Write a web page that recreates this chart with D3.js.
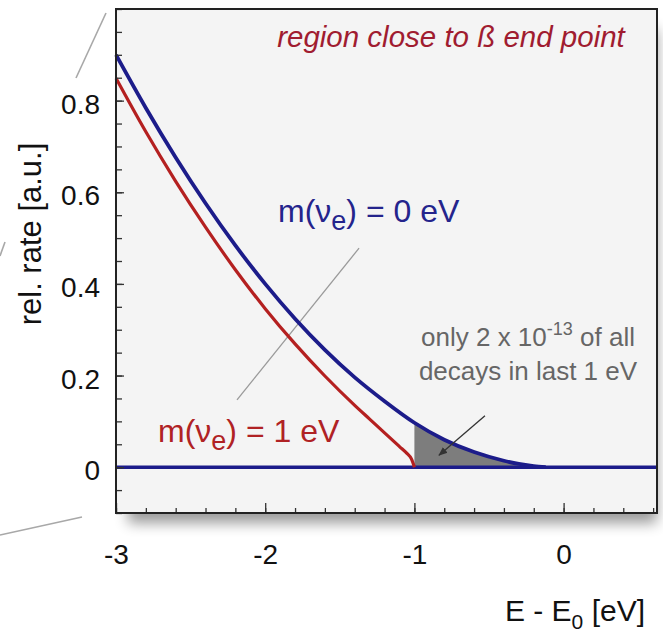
<!DOCTYPE html>
<html>
<head>
<meta charset="utf-8">
<script src="https://cdn.jsdelivr.net/npm/d3@7/dist/d3.min.js"></script>
<style>
  html, body { margin: 0; padding: 0; background: #ffffff; }
  svg { display: block; }
  text { font-family: "Liberation Sans", Arial, Helvetica, sans-serif; }
</style>
</head>
<body>
<div id="chart"></div>
<script>
// ---------- data ----------
const xBlue = [-3.0, -2.8, -2.6, -2.4, -2.2, -2.0, -1.8, -1.6, -1.4, -1.2, -1.0, -0.8, -0.6, -0.4, -0.3, -0.2, -0.12];
const yBlue = [0.900, 0.784, 0.676, 0.576, 0.484, 0.400, 0.324, 0.256, 0.196, 0.144, 0.097, 0.060, 0.033, 0.014, 0.007, 0.0025, 0.0];

const xRed = [-3.0, -2.8, -2.6, -2.4, -2.2, -2.0, -1.8, -1.6, -1.4, -1.3, -1.2, -1.1, -1.05, -1.02, -1.0];
const yRed = [0.849, 0.732, 0.624, 0.524, 0.431, 0.346, 0.269, 0.199, 0.135, 0.105, 0.075, 0.045, 0.030, 0.018, 0.0];

const xTickMajor = [-3, -2, -1, 0];
const xTickLabels = ["-3", "-2", "-1", "0"];
const yTickMajor = [0, 0.2, 0.4, 0.6, 0.8];
const yTickLabels = ["0", "0.2", "0.4", "0.6", "0.8"];

const xDomain = [-3, 0.626];
const yDomain = [-0.1, 1.0];

// annotation anchor points (data space)
const leaderLine = [[-1.371, 0.478], [-2.189, 0.147]];
const arrowLine = [[-0.527, 0.112], [-0.835, 0.026]];
const shadeFrom = -1.0;

// ---------- layout ----------
const W = 663, H = 643;
const L = 116, R = 657, T = 9, B = 513;

const svg = d3.select("#chart").append("svg").attr("width", W).attr("height", H);

const x = d3.scaleLinear().domain(xDomain).range([L, R]);
const y = d3.scaleLinear().domain(yDomain).range([B, T]);

const defs = svg.append("defs");
const f = defs.append("filter").attr("id", "shadow").attr("x", "-10%").attr("y", "-10%").attr("width", "130%").attr("height", "130%");
f.append("feGaussianBlur").attr("in", "SourceAlpha").attr("stdDeviation", 7);
f.append("feOffset").attr("dx", 2).attr("dy", 10).attr("result", "ob");
f.append("feComponentTransfer").append("feFuncA").attr("type", "linear").attr("slope", 0.4);

defs.append("marker").attr("id", "arrow").attr("viewBox", "0 0 10 10")
  .attr("refX", 9).attr("refY", 5).attr("markerWidth", 7).attr("markerHeight", 7)
  .attr("orient", "auto-start-reverse")
  .append("path").attr("d", "M0,1 L10,5 L0,9 Z").attr("fill", "#333");

// decorative magnifier lines outside the plot
const deco = [[[106, 13], [76, 78]], [[0, 535], [82, 517]], [[0, 256], [5, 242]]];
svg.selectAll("line.deco").data(deco).enter().append("line")
  .attr("x1", d => d[0][0]).attr("y1", d => d[0][1]).attr("x2", d => d[1][0]).attr("y2", d => d[1][1])
  .attr("stroke", "#a8a8a8").attr("stroke-width", 1.6);

// shadow + background
svg.append("rect").attr("x", L + 10).attr("y", T + 10).attr("width", R - L - 12).attr("height", B - T - 10)
  .attr("fill", "#000").attr("filter", "url(#shadow)");
svg.append("rect").attr("x", L).attr("y", T).attr("width", R - L).attr("height", B - T)
  .attr("fill", "#f4f4f4");

const blue = xBlue.map((v, i) => [v, yBlue[i]]);
const red = xRed.map((v, i) => [v, yRed[i]]);

// shaded region under blue curve past -1
const shade = blue.filter(d => d[0] >= shadeFrom);
svg.append("path")
  .datum(shade)
  .attr("d", d3.area().x(d => x(d[0])).y0(y(0)).y1(d => y(d[1])).curve(d3.curveMonotoneX))
  .attr("fill", "#7d7d7d");

// leader line between labels
svg.append("line")
  .attr("x1", x(leaderLine[0][0])).attr("y1", y(leaderLine[0][1]))
  .attr("x2", x(leaderLine[1][0])).attr("y2", y(leaderLine[1][1]))
  .attr("stroke", "#9a9a9a").attr("stroke-width", 1.3);

// zero line
svg.append("line").attr("x1", x(xDomain[0])).attr("x2", x(xDomain[1]))
  .attr("y1", y(0)).attr("y2", y(0))
  .attr("stroke", "#1c1c8a").attr("stroke-width", 3.5);

const line = d3.line().x(d => x(d[0])).y(d => y(d[1])).curve(d3.curveMonotoneX);
svg.append("path").datum(red).attr("d", line).attr("fill", "none")
  .attr("stroke", "#b42020").attr("stroke-width", 3.2);
svg.append("path").datum(blue).attr("d", line).attr("fill", "none")
  .attr("stroke", "#1c1c8a").attr("stroke-width", 3.8);

// arrow
svg.append("line")
  .attr("x1", x(arrowLine[0][0])).attr("y1", y(arrowLine[0][1]))
  .attr("x2", x(arrowLine[1][0])).attr("y2", y(arrowLine[1][1]))
  .attr("stroke", "#333").attr("stroke-width", 1.3)
  .attr("marker-end", "url(#arrow)");

// axes (ticks inward)
const xMinor = d3.range(-3, 0.62, 0.2).map(v => Math.round(v * 10) / 10);
const yMinor = d3.range(-0.1, 1.0001, 0.05).map(v => Math.round(v * 100) / 100);

const gx = svg.append("g").attr("transform", `translate(0,${B})`);
gx.call(d3.axisBottom(x).tickValues(xMinor).tickSize(-5).tickFormat(""));
gx.call(g => g.selectAll(".tick line").attr("stroke", "#333").attr("stroke-width", 1.3));
gx.select(".domain").remove();
const gx2 = svg.append("g").attr("transform", `translate(0,${B})`);
gx2.call(d3.axisBottom(x).tickValues(xTickMajor).tickSize(-10).tickFormat((d, i) => xTickLabels[i]).tickPadding(31));
gx2.select(".domain").remove();
gx2.selectAll(".tick line").attr("stroke", "#333").attr("stroke-width", 1.3);
gx2.selectAll(".tick text").attr("font-size", 28).attr("fill", "#111")
  .attr("font-family", "'Liberation Sans', Arial, sans-serif");

const gy = svg.append("g").attr("transform", `translate(${L},0)`);
gy.call(d3.axisLeft(y).tickValues(yMinor).tickSize(-6).tickFormat(""));
gy.select(".domain").remove();
gy.selectAll(".tick line").attr("stroke", "#333").attr("stroke-width", 1.3);
const gy2 = svg.append("g").attr("transform", `translate(${L},0)`);
gy2.call(d3.axisLeft(y).tickValues(yTickMajor).tickSize(-8).tickFormat((d, i) => yTickLabels[i]).tickPadding(16));
gy2.select(".domain").remove();
gy2.selectAll(".tick line").attr("stroke", "#333").attr("stroke-width", 1.3);
gy2.selectAll(".tick text").attr("font-size", 28).attr("fill", "#111").attr("dy", "0.45em")
  .attr("font-family", "'Liberation Sans', Arial, sans-serif");

// frame
svg.append("rect").attr("x", L).attr("y", T).attr("width", R - L).attr("height", B - T)
  .attr("fill", "none").attr("stroke", "#222").attr("stroke-width", 2);

// texts
svg.append("text").attr("x", 451).attr("y", 47).attr("text-anchor", "middle")
  .attr("font-size", 29.5).attr("font-style", "italic").attr("fill", "#a01c30")
  .text("region close to ß end point");

const lab0 = svg.append("text").attr("x", 278).attr("y", 222).attr("font-size", 32).attr("fill", "#24248c");
lab0.append("tspan").text("m(ν");
lab0.append("tspan").attr("font-size", 27).attr("dy", 8).text("e");
lab0.append("tspan").attr("dy", -8).text(") = 0 eV");

const lab1 = svg.append("text").attr("x", 158).attr("y", 442).attr("font-size", 32).attr("fill", "#b02224");
lab1.append("tspan").text("m(ν");
lab1.append("tspan").attr("font-size", 27).attr("dy", 8).text("e");
lab1.append("tspan").attr("dy", -8).text(") = 1 eV");

const ann = svg.append("g").attr("fill", "#666").attr("font-size", 26);
const a1 = ann.append("text").attr("x", 528).attr("y", 346).attr("text-anchor", "middle");
a1.append("tspan").text("only 2 x 10");
a1.append("tspan").attr("font-size", 18).attr("dy", -11).text("-13");
a1.append("tspan").attr("dy", 11).text(" of all");
ann.append("text").attr("x", 528).attr("y", 380).attr("text-anchor", "middle").text("decays in last 1 eV");

const xt = svg.append("text").attr("x", 645).attr("y", 621).attr("text-anchor", "end")
  .attr("font-size", 30).attr("fill", "#111");
xt.append("tspan").text("E - E");
xt.append("tspan").attr("font-size", 21).attr("dy", 8).text("0");
xt.append("tspan").attr("dy", -8).text(" [eV]");

svg.append("text").attr("transform", "translate(41,234) rotate(-90)").attr("text-anchor", "middle")
  .attr("font-size", 31).attr("fill", "#111").text("rel. rate [a.u.]");
</script>
</body>
</html>
